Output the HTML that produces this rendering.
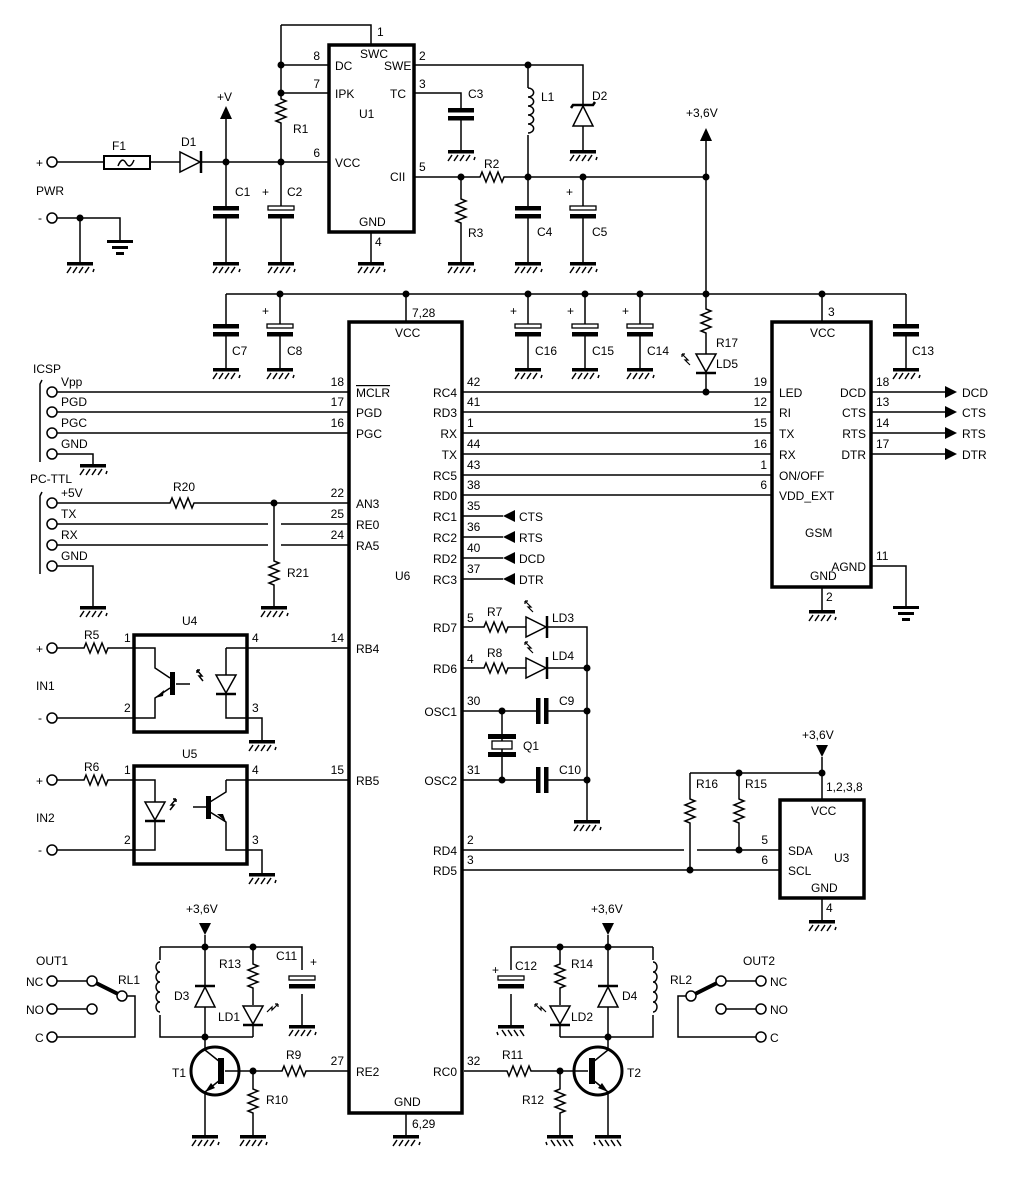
<!DOCTYPE html>
<html><head><meta charset="utf-8"><style>
html,body{margin:0;padding:0;background:#fff}
svg{display:block}
text{font-family:"Liberation Sans",sans-serif;font-size:12px;fill:#000}
</style></head><body>
<svg width="1024" height="1194" viewBox="0 0 1024 1194" xmlns="http://www.w3.org/2000/svg">
<defs>
<g id="gnd"><rect x="-13" y="0" width="26" height="3.5"/><path d="M-9,5 l-4,6 M-3,5 l-4,6 M3,5 l-4,6 M9,5 l-4,6 M14,7 l-1,3" stroke="#000" stroke-width="1.5" fill="none"/></g>
<g id="earth"><rect x="-13" y="0" width="26" height="3"/><rect x="-8" y="6" width="16" height="3"/><rect x="-4" y="12" width="8" height="3"/></g>
<path id="rv" d="M0,0 v4 l5,2 l-10,4 l10,4 l-10,4 l10,4 l-10,4 l5,2 v2" fill="none" stroke="#000" stroke-width="1.5"/>
<path id="rh" d="M0,0 h4 l2,-5 l4,10 l4,-10 l4,10 l4,-10 l4,10 l2,-5 h2" fill="none" stroke="#000" stroke-width="1.5"/>
<g id="cap"><rect x="-14" y="-2" width="28" height="4" fill="#fff"/><rect x="-13" y="-6" width="26" height="4.5"/><rect x="-13" y="2" width="26" height="4.5"/></g>
<g id="caph"><rect x="-2" y="-14" width="4" height="28" fill="#fff"/><rect x="-6" y="-13" width="4.5" height="26"/><rect x="2" y="-13" width="4.5" height="26"/></g>
<g id="ecap"><rect x="-14" y="-2" width="28" height="4" fill="#fff"/><rect x="-13" y="-6" width="26" height="4" fill="#fff" stroke="#000" stroke-width="1.3"/><rect x="-13" y="2" width="26" height="4.5"/></g>
</defs>
<g stroke="#000" stroke-width="1.5" fill="none">
<path d="M57,162 H104 M150,162 H180 M200,162 H329 M226,117 V262 M281,65 V95 M281,125 V262 M281,25 H371 V45 M281,25 V65 H329 M281,93 H329 M414,65 H583 V106 M583,126 V150 M528,65 V88 M528,135 V262 M414,93 H461 V150 M414,177 H476 M461,177 V195 M461,225 V262 M506,177 H706 M583,177 V262 M371,232 V262 M57,218 H120 V240 M80,218 V262"/>
<path d="M706,140 V294 M226,294 H906 M226,294 V368 M280,294 V368 M406,294 V322 M528,294 V368 M585,294 V368 M640,294 V368 M706,294 V305 M706,335 V392 M822,294 V322 M906,294 V368"/>
<rect x="104" y="156" width="46" height="13" fill="#fff" stroke-width="2"/>
<path d="M118,166 q4,-10 8,-3 q4,7 8,-3" />
<path d="M180,152 L180,172 L200,162 Z" fill="#fff"/><path d="M201,151 V173" stroke-width="2.5"/>
<path d="M573,126 L593,126 L583,106 Z" fill="#fff"/><path d="M571,108 l2,-3 H593 l2,-3" stroke-width="2.5"/>
<path d="M528,88 a5,4 0 0 1 0,9 a5,4 0 0 1 0,9 a5,4 0 0 1 0,9 a5,4 0 0 1 0,9 a5,4 0 0 1 0,9" stroke-width="1.5"/>
</g>
<path d="M226,106 L220,119 L232,119 Z"/>
<path d="M706,128 L700,141 L712,141 Z"/>
<rect x="329" y="45" width="85" height="187" fill="none" stroke="#000" stroke-width="3.5"/>
<use href="#rv" x="281" y="95"/><use href="#rv" x="461" y="195"/><use href="#rh" x="476" y="177"/>
<use href="#cap" x="226" y="212"/><use href="#ecap" x="281" y="212"/><use href="#cap" x="461" y="114"/><use href="#cap" x="528" y="212"/><use href="#ecap" x="583" y="212"/>
<use href="#gnd" x="226" y="262"/><use href="#gnd" x="281" y="262"/><use href="#gnd" x="371" y="262"/><use href="#gnd" x="461" y="262"/><use href="#gnd" x="528" y="262"/><use href="#gnd" x="583" y="262"/><use href="#gnd" x="461" y="150"/><use href="#gnd" x="583" y="150"/><use href="#gnd" x="80" y="262"/><use href="#earth" x="120" y="240"/>
<g>
<circle cx="226" cy="162" r="3.5"/><circle cx="281" cy="162" r="3.5"/><circle cx="281" cy="65" r="3.5"/><circle cx="281" cy="93" r="3.5"/><circle cx="461" cy="177" r="3.5"/><circle cx="528" cy="65" r="3.5"/><circle cx="528" cy="177" r="3.5"/><circle cx="583" cy="177" r="3.5"/><circle cx="706" cy="177" r="3.5"/><circle cx="80" cy="218" r="3.5"/>
<circle cx="280" cy="294" r="3.5"/><circle cx="406" cy="294" r="3.5"/><circle cx="528" cy="294" r="3.5"/><circle cx="585" cy="294" r="3.5"/><circle cx="640" cy="294" r="3.5"/><circle cx="706" cy="294" r="3.5"/><circle cx="822" cy="294" r="3.5"/><circle cx="706" cy="392" r="3.5"/>
</g>
<g fill="#fff" stroke="#000" stroke-width="1.5"><circle cx="52" cy="162" r="5"/><circle cx="52" cy="218" r="5"/></g>
<text x="36" y="167">+</text><text x="38" y="222">-</text><text x="36" y="195">PWR</text>
<text x="112" y="150">F1</text><text x="181" y="146">D1</text><text x="217" y="101">+V</text>
<text x="235" y="196">C1</text><text x="262" y="196">+</text><text x="287" y="196">C2</text><text x="293" y="133">R1</text>
<text x="320" y="60" text-anchor="end">8</text><text x="320" y="88" text-anchor="end">7</text><text x="320" y="157" text-anchor="end">6</text>
<text x="419" y="60">2</text><text x="419" y="88">3</text><text x="419" y="171">5</text><text x="377" y="36">1</text><text x="375" y="246">4</text>
<text x="335" y="70" font-size="11">DC</text><text x="335" y="98" font-size="11">IPK</text><text x="335" y="167" font-size="11">VCC</text><text x="360" y="58" font-size="11">SWC</text><text x="384" y="70" font-size="11">SWE</text><text x="390" y="98" font-size="11">TC</text><text x="390" y="181" font-size="11">CII</text><text x="359" y="118" font-size="15">U1</text><text x="359" y="226" font-size="11">GND</text>
<text x="468" y="98">C3</text><text x="484" y="168">R2</text><text x="468" y="237">R3</text><text x="541" y="101">L1</text><text x="592" y="100">D2</text><text x="537" y="236">C4</text><text x="566" y="196">+</text><text x="592" y="236">C5</text><text x="686" y="117">+3,6V</text>
<use href="#cap" x="226" y="330"/><use href="#ecap" x="280" y="330"/><use href="#ecap" x="528" y="330"/><use href="#ecap" x="585" y="330"/><use href="#ecap" x="640" y="330"/><use href="#cap" x="906" y="330"/>
<use href="#gnd" x="226" y="368"/><use href="#gnd" x="280" y="368"/><use href="#gnd" x="528" y="368"/><use href="#gnd" x="585" y="368"/><use href="#gnd" x="640" y="368"/><use href="#gnd" x="906" y="368"/>
<use href="#rv" x="706" y="305"/>
<path d="M696,354 L716,354 L706,372 Z" fill="#fff" stroke="#000" stroke-width="1.5"/><path d="M696,373 H716" stroke="#000" stroke-width="2.5"/>
<path d="M690,365 l-5,-5 l3,0 l-6,-6 M682,354 v3 M682,354 h3" stroke="#000" stroke-width="1.2" fill="none"/>
<text x="232" y="355">C7</text><text x="287" y="355">C8</text><text x="262" y="315">+</text><text x="535" y="355">C16</text><text x="510" y="315">+</text><text x="592" y="355">C15</text><text x="567" y="315">+</text><text x="647" y="355">C14</text><text x="622" y="315">+</text><text x="716" y="347">R17</text><text x="716" y="368">LD5</text><text x="912" y="355">C13</text>
<text x="412" y="317">7,28</text><text x="828" y="316">3</text>
<rect x="349" y="322" width="113" height="791" fill="none" stroke="#000" stroke-width="3.5"/>
<rect x="772" y="322" width="99" height="265" fill="none" stroke="#000" stroke-width="3.5"/>
<g stroke="#000" stroke-width="1.5" fill="none">
<path d="M57,392 H349 M57,412 H349 M57,433 H349 M57,454 H93 V464 M57,503 H166 M196,503 H349 M57,524 H268 M281,524 H349 M57,545 H268 M281,545 H349 M274,503 V557 M274,587 V606 M57,566 H93 V606 M42,380 l-2,4 V462 M42,492 l-2,4 V574"/>
<path d="M462,392 H772 M462,412 H772 M462,433 H772 M462,454 H772 M462,475 H772 M462,495 H772 M462,516 H503 M462,537 H503 M462,558 H503 M462,579 H503"/>
<path d="M871,392 H945 M871,412 H945 M871,433 H945 M871,454 H945 M871,566 H906 V606 M822,587 V610"/>
</g>
<use href="#gnd" x="93" y="464"/><use href="#gnd" x="93" y="606"/><use href="#gnd" x="274" y="606"/><use href="#gnd" x="822" y="610"/><use href="#earth" x="906" y="606"/>
<use href="#rh" x="166" y="503"/><use href="#rv" x="274" y="557"/>
<circle cx="274" cy="503" r="3.5"/>
<g fill="#fff" stroke="#000" stroke-width="1.5"><circle cx="52" cy="392" r="5"/><circle cx="52" cy="412" r="5"/><circle cx="52" cy="433" r="5"/><circle cx="52" cy="454" r="5"/><circle cx="52" cy="503" r="5"/><circle cx="52" cy="524" r="5"/><circle cx="52" cy="545" r="5"/><circle cx="52" cy="566" r="5"/></g>
<g><path d="M503,516 l12,-6 v12 Z"/><path d="M503,537 l12,-6 v12 Z"/><path d="M503,558 l12,-6 v12 Z"/><path d="M503,579 l12,-6 v12 Z"/>
<path d="M957,392 l-12,-6 v12 Z"/><path d="M957,412 l-12,-6 v12 Z"/><path d="M957,433 l-12,-6 v12 Z"/><path d="M957,454 l-12,-6 v12 Z"/></g>
<text x="33" y="373">ICSP</text><text x="61" y="386">Vpp</text><text x="61" y="406">PGD</text><text x="61" y="427">PGC</text><text x="61" y="448">GND</text>
<text x="30" y="483">PC-TTL</text><text x="61" y="497">+5V</text><text x="61" y="518">TX</text><text x="61" y="539">RX</text><text x="61" y="560">GND</text>
<text x="173" y="491">R20</text><text x="287" y="577">R21</text>
<g text-anchor="end"><text x="344" y="386">18</text><text x="344" y="406">17</text><text x="344" y="427">16</text><text x="344" y="497">22</text><text x="344" y="518">25</text><text x="344" y="539">24</text><text x="344" y="642">14</text><text x="344" y="774">15</text><text x="344" y="1065">27</text></g>
<g font-size="11"><text x="356" y="397" text-decoration="overline">MCLR</text><text x="356" y="417">PGD</text><text x="356" y="438">PGC</text><text x="356" y="508">AN3</text><text x="356" y="529">RE0</text><text x="356" y="550">RA5</text><text x="356" y="653">RB4</text><text x="356" y="785">RB5</text><text x="356" y="1076">RE2</text><text x="395" y="337">VCC</text><text x="394" y="1106">GND</text></g>
<text x="395" y="580" font-size="15">U6</text>
<g font-size="11" text-anchor="end"><text x="457" y="397">RC4</text><text x="457" y="417">RD3</text><text x="457" y="438">RX</text><text x="457" y="459">TX</text><text x="457" y="480">RC5</text><text x="457" y="500">RD0</text><text x="457" y="521">RC1</text><text x="457" y="542">RC2</text><text x="457" y="563">RD2</text><text x="457" y="584">RC3</text><text x="457" y="632">RD7</text><text x="457" y="673">RD6</text><text x="457" y="716">OSC1</text><text x="457" y="785">OSC2</text><text x="457" y="855">RD4</text><text x="457" y="875">RD5</text><text x="457" y="1076">RC0</text></g>
<g><text x="467" y="386">42</text><text x="467" y="406">41</text><text x="467" y="427">1</text><text x="467" y="448">44</text><text x="467" y="469">43</text><text x="467" y="489">38</text><text x="467" y="510">35</text><text x="467" y="531">36</text><text x="467" y="552">40</text><text x="467" y="573">37</text><text x="467" y="622">5</text><text x="467" y="663">4</text><text x="467" y="705">30</text><text x="467" y="774">31</text><text x="467" y="844">2</text><text x="467" y="864">3</text><text x="467" y="1065">32</text></g>
<g font-size="11"><text x="519" y="521">CTS</text><text x="519" y="542">RTS</text><text x="519" y="563">DCD</text><text x="519" y="584">DTR</text></g>
<g text-anchor="end"><text x="767" y="386">19</text><text x="767" y="406">12</text><text x="767" y="427">15</text><text x="767" y="448">16</text><text x="767" y="469">1</text><text x="767" y="489">6</text></g>
<g font-size="11"><text x="779" y="397">LED</text><text x="779" y="417">RI</text><text x="779" y="438">TX</text><text x="779" y="459">RX</text><text x="779" y="480">ON/OFF</text><text x="779" y="500">VDD_EXT</text><text x="810" y="337">VCC</text><text x="810" y="580">GND</text>
<g text-anchor="end"><text x="866" y="397">DCD</text><text x="866" y="417">CTS</text><text x="866" y="438">RTS</text><text x="866" y="459">DTR</text><text x="866" y="571">AGND</text></g>
<text x="962" y="397">DCD</text><text x="962" y="417">CTS</text><text x="962" y="438">RTS</text><text x="962" y="459">DTR</text></g>
<g><text x="876" y="386">18</text><text x="876" y="406">13</text><text x="876" y="427">14</text><text x="876" y="448">17</text><text x="876" y="560">11</text><text x="826" y="601">2</text></g>
<text x="805" y="537" font-size="13">GSM</text>
<g stroke="#000" stroke-width="1.5" fill="none">
<path d="M462,627 H480 M510,627 H526 M548,627 H587 V820 M462,668 H480 M510,668 H526 M548,668 H587 M462,711 H537 M548,711 H587 M462,780 H537 M548,780 H587 M502,711 V780"/>
<path d="M526,617 V637 L546,627 Z" fill="#fff"/><path d="M526,658 V678 L546,668 Z" fill="#fff"/>
<path d="M533,612 l-5,-5 l3,0 l-6,-6 M525,601 v3 M525,601 h3 M533,653 l-5,-5 l3,0 l-6,-6 M525,642 v3 M525,642 h3" stroke-width="1.2"/>
</g>
<path d="M547,616 V638 M547,657 V679" stroke="#000" stroke-width="2.5"/>
<use href="#rh" x="480" y="627"/><use href="#rh" x="480" y="668"/>
<use href="#caph" x="542" y="711"/><use href="#caph" x="542" y="780"/>
<rect x="488" y="734" width="28" height="5"/><rect x="488" y="752" width="28" height="5"/><rect x="492" y="741" width="20" height="8" fill="#fff" stroke="#000" stroke-width="1.3"/>
<use href="#gnd" x="587" y="820"/>
<circle cx="587" cy="668" r="3.5"/><circle cx="587" cy="711" r="3.5"/><circle cx="587" cy="780" r="3.5"/><circle cx="502" cy="711" r="3.5"/><circle cx="502" cy="780" r="3.5"/>
<text x="487" y="616">R7</text><text x="552" y="622">LD3</text><text x="487" y="657">R8</text><text x="552" y="660">LD4</text><text x="559" y="705">C9</text><text x="559" y="774">C10</text><text x="523" y="750">Q1</text>
<rect x="780" y="800" width="84" height="98" fill="none" stroke="#000" stroke-width="3.5"/>
<g stroke="#000" stroke-width="1.5" fill="none">
<path d="M822,757 V800 M690,773 H822 M690,773 V795 M690,825 V870 M739,773 V795 M739,825 V850 M462,850 H684 M697,850 H780 M462,870 H780 M822,898 V920"/>
</g>
<path d="M822,757 l-6,-12 h12 Z"/>
<use href="#rv" x="690" y="795"/><use href="#rv" x="739" y="795"/><use href="#gnd" x="822" y="920"/>
<circle cx="739" cy="773" r="3.5"/><circle cx="822" cy="773" r="3.5"/><circle cx="739" cy="850" r="3.5"/><circle cx="690" cy="870" r="3.5"/>
<text x="802" y="739">+3,6V</text><text x="696" y="788">R16</text><text x="745" y="788">R15</text><text x="826" y="791">1,2,3,8</text>
<text x="768" y="844" text-anchor="end">5</text><text x="768" y="864" text-anchor="end">6</text><text x="826" y="912">4</text>
<g font-size="11"><text x="811" y="815">VCC</text><text x="788" y="855">SDA</text><text x="788" y="875">SCL</text><text x="811" y="892">GND</text></g>
<text x="834" y="862" font-size="14">U3</text>
<rect x="134" y="635" width="113" height="97" fill="none" stroke="#000" stroke-width="3.5"/>
<rect x="134" y="766" width="113" height="98" fill="none" stroke="#000" stroke-width="3.5"/>
<g stroke="#000" stroke-width="1.5" fill="none">
<path d="M57,648 H80 M110,648 H155 V668 L170,678 M170,688 L155,698 V718 H57 M176,684 H190 M226,648 V675 M226,693 V718 H262 V740 M226,648 H349"/>
<path d="M216,675 H236 L226,693 Z" fill="#fff"/><path d="M203,681 l-4,-5 l3,0 l-5,-6 M197,670 v3 M197,670 h3"/>
<path d="M57,780 H80 M110,780 H155 V802 M155,820 V850 H57 M226,780 H247 M226,780 V792 L210,802 M210,812 L226,822 V850 H262 V873 M247,780 H349 M193,807 H206"/>
<path d="M145,802 H165 L155,820 Z" fill="#fff"/><path d="M170,810 l4,-5 l-3,0 l5,-6 M176,799 v3 M176,799 h-3"/>
</g>
<path d="M216,694 H236 M145,821 H165" stroke="#000" stroke-width="2.5"/>
<rect x="170" y="672" width="5" height="23"/><rect x="206" y="796" width="5" height="23"/>
<path d="M155,698 l9,-8 l-1,6 Z M226,822 l-9,-8 l6,0 Z"/>
<use href="#rh" x="80" y="648"/><use href="#rh" x="80" y="780"/><use href="#gnd" x="262" y="740"/><use href="#gnd" x="262" y="873"/>
<g fill="#fff" stroke="#000" stroke-width="1.5"><circle cx="52" cy="648" r="5"/><circle cx="52" cy="718" r="5"/><circle cx="52" cy="780" r="5"/><circle cx="52" cy="850" r="5"/></g>
<text x="36" y="653">+</text><text x="38" y="722">-</text><text x="36" y="690">IN1</text><text x="36" y="785">+</text><text x="38" y="854">-</text><text x="36" y="822">IN2</text>
<text x="84" y="639">R5</text><text x="84" y="771">R6</text><text x="182" y="625">U4</text><text x="182" y="758">U5</text>
<text x="124" y="642">1</text><text x="124" y="712">2</text><text x="252" y="642">4</text><text x="252" y="712">3</text>
<text x="124" y="774">1</text><text x="124" y="844">2</text><text x="252" y="774">4</text><text x="252" y="844">3</text>
<g id="drv">
<g stroke="#000" stroke-width="1.5" fill="none">
<path d="M205,935 V1050 L220,1062 M220,1080 L205,1092 V1135 M160,947 H302 V970 M160,947 V960 M160,1015 V1037 H253 M253,947 V960 M253,990 V1005 M253,1024 V1037 M302,994 V1025 M225,1071 H278 M308,1071 H349 M253,1071 V1085 M253,1115 V1135"/>
<path d="M160,962 a4,5 0 0 0 0,10 a4,5 0 0 0 0,10 a4,5 0 0 0 0,10 a4,5 0 0 0 0,10 a4,5 0 0 0 0,10" />
<path d="M195,1007 H215 L205,987 Z" fill="#fff"/>
<path d="M243,1006 H263 L253,1024 Z" fill="#fff"/>
<path d="M267,1012 l5,-5 l0,3 l6,-6 M278,1004 h-3 M278,1004 v3" stroke-width="1.2"/>
<circle cx="215" cy="1071" r="24" stroke-width="3"/>
<path d="M57,981 H92 M57,1009 H92 M57,1037 H135 V996 H127"/>
</g>
<path d="M195,986 H215 M243,1025 H263" stroke="#000" stroke-width="2.5"/>
<rect x="218" y="1058" width="6" height="26"/>
<path d="M205,1092 l10,-4 l-4,-5 Z"/>
<path d="M92,981 L122,996" stroke="#000" stroke-width="4"/>
<g fill="#fff" stroke="#000" stroke-width="1.5"><circle cx="52" cy="981" r="5"/><circle cx="52" cy="1009" r="5"/><circle cx="52" cy="1037" r="5"/><circle cx="92" cy="981" r="5"/><circle cx="92" cy="1009" r="5"/><circle cx="122" cy="996" r="5"/></g>
<path d="M205,935 l-6,-12 h12 Z"/>
<use href="#rh" x="278" y="1071"/><use href="#rv" x="253" y="960"/><use href="#rv" x="253" y="1085"/>
<use href="#ecap" x="302" y="982"/>
<use href="#gnd" x="205" y="1135"/><use href="#gnd" x="253" y="1135"/><use href="#gnd" x="302" y="1025"/>
<circle cx="205" cy="947" r="3.5"/><circle cx="253" cy="947" r="3.5"/><circle cx="205" cy="1037" r="3.5"/><circle cx="253" cy="1071" r="3.5"/>
</g>
<use href="#drv" transform="translate(813,0) scale(-1,1)"/>
<use href="#gnd" x="406" y="1135"/><path d="M406,1113 V1135" stroke="#000" stroke-width="1.5"/>
<text x="412" y="1128">6,29</text>
<text x="186" y="913">+3,6V</text><text x="219" y="968">R13</text><text x="276" y="960">C11</text><text x="310" y="966">+</text><text x="174" y="1000">D3</text><text x="218" y="1021">LD1</text>
<text x="172" y="1077">T1</text><text x="286" y="1059">R9</text><text x="266" y="1104">R10</text>
<text x="36" y="965">OUT1</text><text x="26" y="986">NC</text><text x="26" y="1014">NO</text><text x="35" y="1042">C</text><text x="118" y="984">RL1</text>
<text x="591" y="913">+3,6V</text><text x="571" y="968">R14</text><text x="515" y="970">C12</text><text x="492" y="974">+</text><text x="622" y="1000">D4</text><text x="571" y="1021">LD2</text>
<text x="627" y="1077">T2</text><text x="502" y="1059">R11</text><text x="522" y="1104">R12</text>
<text x="743" y="965">OUT2</text><text x="770" y="986">NC</text><text x="770" y="1014">NO</text><text x="770" y="1042">C</text><text x="670" y="984">RL2</text>
</svg>
</body></html>
